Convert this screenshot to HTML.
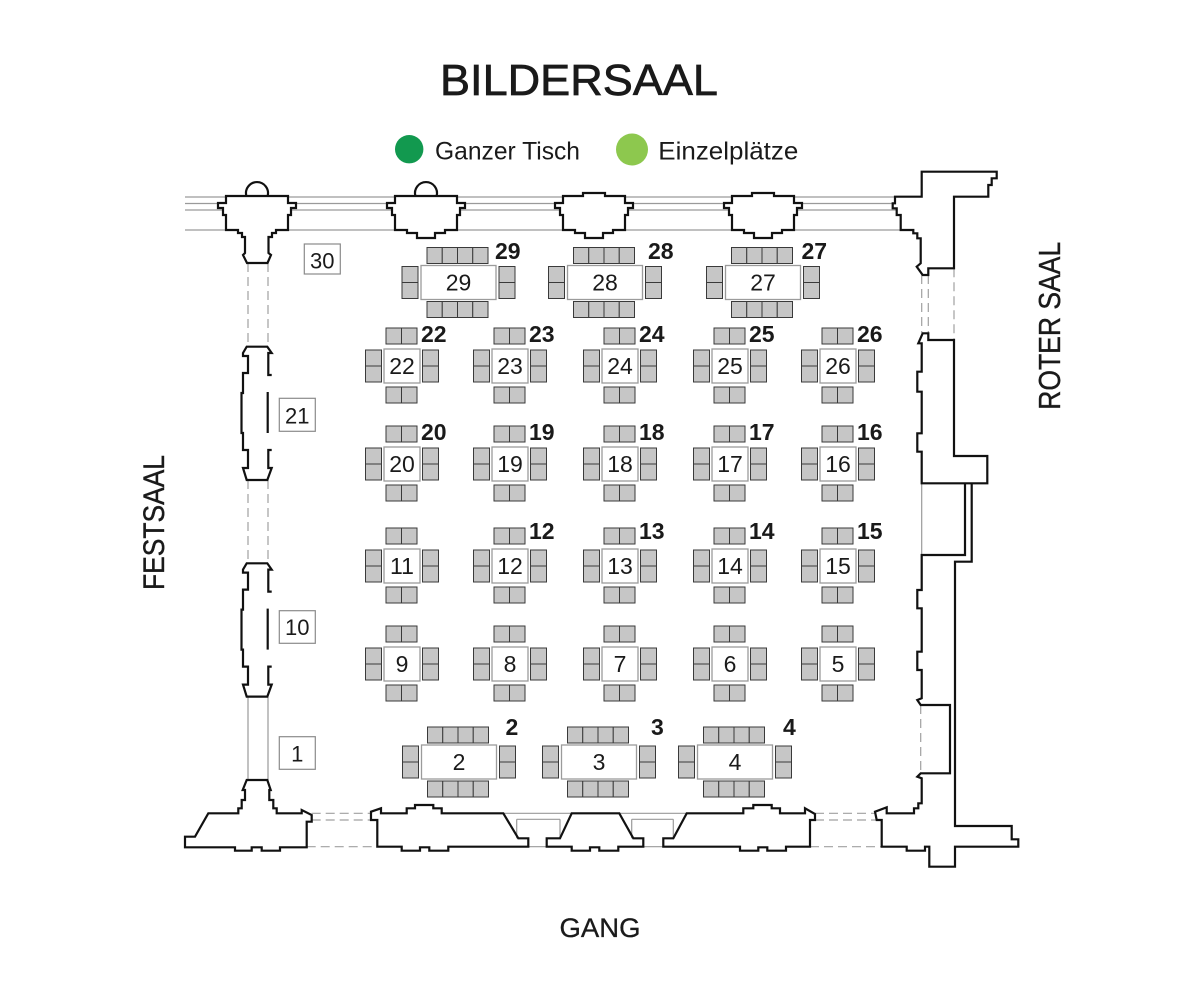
<!DOCTYPE html>
<html><head><meta charset="utf-8"><style>
html,body{margin:0;padding:0;background:#fff;}
svg{display:block;}
text{font-family:"Liberation Sans",Arial,sans-serif;fill:#1a1a1a;}
</style></head><body>
<svg width="1200" height="989" viewBox="0 0 1200 989" xmlns="http://www.w3.org/2000/svg">
<defs>
<g id="st">
 <rect x="-18" y="-17" width="36" height="34" fill="#fff" stroke="#9b9b9b" stroke-width="1.3"/>
 <g fill="#c6c6c6" stroke="#3a3a3a" stroke-width="1">
  <rect x="-16" y="-38" width="15.5" height="16"/><rect x="-0.5" y="-38" width="15.5" height="16"/>
  <rect x="-16" y="21" width="15.5" height="16"/><rect x="-0.5" y="21" width="15.5" height="16"/>
  <rect x="-36.5" y="-16" width="16" height="16"/><rect x="-36.5" y="0" width="16" height="16"/>
  <rect x="20.5" y="-16" width="16" height="16"/><rect x="20.5" y="0" width="16" height="16"/>
 </g>
</g>
<g id="lt">
 <rect x="-37.5" y="-17" width="75" height="34" fill="#fff" stroke="#9b9b9b" stroke-width="1.3"/>
 <g fill="#c6c6c6" stroke="#3a3a3a" stroke-width="1">
  <rect x="-31.5" y="-35" width="15.25" height="16"/><rect x="-16.25" y="-35" width="15.25" height="16"/><rect x="-1" y="-35" width="15.25" height="16"/><rect x="14.25" y="-35" width="15.25" height="16"/>
  <rect x="-31.5" y="19" width="15.25" height="16"/><rect x="-16.25" y="19" width="15.25" height="16"/><rect x="-1" y="19" width="15.25" height="16"/><rect x="14.25" y="19" width="15.25" height="16"/>
  <rect x="-56.5" y="-16" width="16" height="16"/><rect x="-56.5" y="0" width="16" height="16"/>
  <rect x="40.5" y="-16" width="16" height="16"/><rect x="40.5" y="0" width="16" height="16"/>
 </g>
</g>
</defs>

<!-- Title & legend -->
<text x="440" y="95" font-size="44" textLength="278" lengthAdjust="spacingAndGlyphs" stroke="#1a1a1a" stroke-width="0.7">BILDERSAAL</text>
<circle cx="409.2" cy="149.2" r="14.2" fill="#12994f"/>
<text x="435" y="159.3" font-size="25" textLength="145" lengthAdjust="spacingAndGlyphs">Ganzer Tisch</text>
<circle cx="632" cy="149.5" r="16" fill="#8dc84e"/>
<text x="658.3" y="159.3" font-size="25" textLength="140" lengthAdjust="spacingAndGlyphs">Einzelplätze</text>

<!-- Side labels -->
<text transform="translate(164,522.5) rotate(-90)" text-anchor="middle" font-size="30" textLength="135" lengthAdjust="spacingAndGlyphs" stroke="#1a1a1a" stroke-width="0.4">FESTSAAL</text>
<text transform="translate(1060,325.8) rotate(-90)" text-anchor="middle" font-size="31" textLength="168" lengthAdjust="spacingAndGlyphs" stroke="#1a1a1a" stroke-width="0.4">ROTER SAAL</text>
<text x="600" y="937" text-anchor="middle" font-size="27" textLength="81" lengthAdjust="spacingAndGlyphs" stroke="#1a1a1a" stroke-width="0.3">GANG</text>

<!-- Top grey lines -->
<g stroke="#9a9a9a" stroke-width="1.2" fill="none">
 <path d="M185,197 H921 M185,203.5 H921 M185,210 H921 M185,230 H921"/>
</g>

<!-- Grey dashed / thin lines -->
<g stroke="#a0a0a0" stroke-width="1.2" fill="none" stroke-dasharray="9,5">
 <path d="M248,263 V346.7 M268,263 V346.7 M248,480 V563.3 M268,480 V563.3"/>
 <path d="M921.7,275 V333.3 M928.3,275 V333.3 M954,268.3 V340"/>
 <path d="M311.7,813.3 H371 M311.7,820 H371 M306.7,846.7 H377.3"/>
 <path d="M815,813.3 H875 M815,820 H876.7 M810,846.7 H881.7"/>
 <path d="M920.7,705 V773.3"/>
</g>
<g stroke="#9a9a9a" stroke-width="1.2" fill="none">
 <path d="M248,696.7 V780 M268,696.7 V780"/>
 <path d="M921.7,483.3 V555"/>
 <path d="M503.3,813.3 H571.7 M516.7,819.3 H560 M516.7,819.3 V838.3 M560,819.3 V838.3 M528.3,846.7 H546.7"/>
 <path d="M619.3,813.3 H686.7 M631.7,819.3 H673.3 M631.7,819.3 V838.3 M673.3,819.3 V838.3 M643.3,846.7 H663.3"/>
</g>

<!-- Walls (black) -->
<g stroke="#111" stroke-width="2.2" fill="#fff" stroke-linejoin="miter">
 <!-- top pillars -->
 <path d="M246.4,196 A11,11 0 1,1 267.6,196"/>
 <polygon points="226,196 288,196 288,203 296,203 296,208 291,208 291,215 288,215 288,230 276,230 276,233 272,233 272,237 268.5,237 268.5,253 271,255 267.5,263 247,263 243,255 245,253 245,237 242,237 242,233 238,233 238,230 226,230 226,215 223,215 223,208 218,208 218,203 226,203"/>
 <path d="M415.4,196 A11,11 0 1,1 436.6,196"/>
 <polygon points="395,196 457,196 457,203 465,203 465,208 460,208 460,215 457,215 457,230 445,230 445,233 435,233 435,238 417,238 417,233 407,233 407,230 395,230 395,215 392,215 392,208 387,208 387,203 395,203"/>
 <polygon points="583,193 605,193 605,196 625,196 625,203 633,203 633,208 628,208 628,215 625,215 625,230 613,230 613,233 603,233 603,238 585,238 585,233 575,233 575,230 563,230 563,215 560,215 560,208 555,208 555,203 563,203 563,196 583,196"/>
 <polygon points="752,193 774,193 774,196 794,196 794,203 802,203 802,208 797,208 797,215 794,215 794,230 782,230 782,233 772,233 772,238 754,238 754,233 744,233 744,230 732,230 732,215 729,215 729,208 724,208 724,203 732,203 732,196 752,196"/>
 <!-- top right block -->
 <path d="M921.7,171.7 H996.7 V178.3 H991.7 V185 H988.3 V196.7 H954 V268.3 H928.3 V275 H922.7 L916.7,266.7 L920.7,263.3 V238.3 H917.3 V233.3 H913.3 V230 H900.7 V215 H896.7 V208.3 H892.7 V203.3 H895 V196.7 H921.7 Z"/>
 <!-- right wall -->
 <path d="M922.7,333.3 H928.3 V340 H954 V456 H987.3 V483.3 H921.7 V451.7 H917.3 V433.3 H921.7 V391.7 H917.3 V371.7 H921.7 V343.3 H918.3 Z"/>
</g>
<g stroke="#111" stroke-width="2.2" fill="none" stroke-linejoin="miter">
 <path d="M965,483.3 V555 H921.7 V590 H917.3 V608.3 H921.7 V651.7 H917.3 V670 H921.7 V698.3 L917.3,700 L920.7,705 H950 V773.3 H920.7 L917.3,776.7 L921.7,778.3 V803.3 H918.3 V808.3 H914 V813.3 H886.7 V807.3 L875,811.7 L876.7,820 H881.7 V846.7 H906.7 V850.7 H925 V846.7 H929.3 V866.7 H955 V846.7 H1018.3 V839.3 H1011.7 V826 H955 V561.7 H971.7 V483.3"/>
 <!-- left wall pillar segments -->
 <path d="M271.7,450 H268.3 V468 H271.7 L267.3,480 H246.7 L243,468 H248 V450 H243 V433 H241.5 V393 H243 V373 H248 V356 H243 V353 L246.7,346.7 H267.3 L271.7,353 H268.3 V375 H271.7"/>
 <path d="M267.7,392 V433"/>
 <g transform="translate(0,216.6)">
  <path d="M271.7,450 H268.3 V468 H271.7 L267.3,480 H246.7 L243,468 H248 V450 H243 V433 H241.5 V393 H243 V373 H248 V356 H243 V353 L246.7,346.7 H267.3 L271.7,353 H268.3 V375 H271.7"/>
  <path d="M267.7,392 V433"/>
 </g>
 <!-- bottom left base -->
 <path d="M246.7,780 L242.7,790 H245 V800 H241.7 V808.3 H238.3 V813.3 H208.3 L195,836.7 H185 V847.3 H235 V850.7 H251.7 V847.3 H261.7 V850.7 H280 V847.3 H306.7 V821.7 H311.7 V815 L301.7,810 V813.3 H276.7 V808.3 H273.3 V800 H269.3 V790 H270.7 L267.3,780 Z"/>
 <!-- bottom block A -->
 <path d="M371,811.7 L381,808.3 V813.3 H406.7 V808.3 H415 V805 H433.3 V808.3 H441.7 V813.3 H503.3 L518.3,838.3 H528.3 V846.7 H448.3 V850.7 H429.3 V847.3 H420 V850.7 H401.7 V846.7 H377.3 V820 H371 Z"/>
 <!-- block B -->
 <path d="M546.7,838.3 H560 L571.7,813.3 H619.3 L633.3,838.3 H643.3 V846.7 H618.3 V850.7 H599.3 V847.3 H590 V850.7 H571.7 V846.7 H546.7 Z"/>
 <!-- block C -->
 <path d="M686.7,813.3 H743.3 V808.3 H753.3 V805 H771.7 V808.3 H780 V813.3 H805 V808.3 L815,814 V820 H810 V846.7 H786 V850.7 H767.3 V847.3 H758.3 V850.7 H740 V846.7 H663.3 V838.3 H673.3 Z"/>
</g>

<!-- Number boxes on left -->
<g fill="#fff" stroke="#8a8a8a" stroke-width="1.2">
 <rect x="304.3" y="244" width="36" height="30"/>
 <rect x="279.3" y="398.3" width="36" height="33"/>
 <rect x="279.3" y="610.7" width="36" height="32.6"/>
 <rect x="279.3" y="736.7" width="36" height="32.6"/>
</g>
<g font-size="22" text-anchor="middle">
 <text x="322.3" y="268.3">30</text>
 <text x="297.3" y="423.3">21</text>
 <text x="297.3" y="635">10</text>
 <text x="297.3" y="761.7">1</text>
</g>

<!-- Large tables -->
<use href="#lt" x="458.5" y="282.5"/>
<use href="#lt" x="605" y="282.5"/>
<use href="#lt" x="763" y="282.5"/>
<use href="#lt" x="459" y="762"/>
<use href="#lt" x="599" y="762"/>
<use href="#lt" x="735" y="762"/>

<!-- Small tables -->
<use href="#st" x="402" y="366"/><use href="#st" x="510" y="366"/><use href="#st" x="620" y="366"/><use href="#st" x="730" y="366"/><use href="#st" x="838" y="366"/>
<use href="#st" x="402" y="464"/><use href="#st" x="510" y="464"/><use href="#st" x="620" y="464"/><use href="#st" x="730" y="464"/><use href="#st" x="838" y="464"/>
<use href="#st" x="402" y="566"/><use href="#st" x="510" y="566"/><use href="#st" x="620" y="566"/><use href="#st" x="730" y="566"/><use href="#st" x="838" y="566"/>
<use href="#st" x="402" y="664"/><use href="#st" x="510" y="664"/><use href="#st" x="620" y="664"/><use href="#st" x="730" y="664"/><use href="#st" x="838" y="664"/>

<!-- Table numbers inside -->
<g font-size="23" text-anchor="middle">
 <text x="458.5" y="290.5">29</text><text x="605" y="290.5">28</text><text x="763" y="290.5">27</text>
 <text x="459" y="770">2</text><text x="599" y="770">3</text><text x="735" y="770">4</text>
 <text x="402" y="374">22</text><text x="510" y="374">23</text><text x="620" y="374">24</text><text x="730" y="374">25</text><text x="838" y="374">26</text>
 <text x="402" y="472">20</text><text x="510" y="472">19</text><text x="620" y="472">18</text><text x="730" y="472">17</text><text x="838" y="472">16</text>
 <text x="402" y="574">11</text><text x="510" y="574">12</text><text x="620" y="574">13</text><text x="730" y="574">14</text><text x="838" y="574">15</text>
 <text x="402" y="672">9</text><text x="510" y="672">8</text><text x="620" y="672">7</text><text x="730" y="672">6</text><text x="838" y="672">5</text>
</g>

<!-- Bold labels -->
<g font-size="23" font-weight="bold">
 <text x="495" y="259">29</text><text x="648" y="259">28</text><text x="801.5" y="259">27</text>
 <text x="505.5" y="735">2</text><text x="651" y="735">3</text><text x="783" y="735">4</text>
 <text x="421" y="342">22</text><text x="529" y="342">23</text><text x="639" y="342">24</text><text x="749" y="342">25</text><text x="857" y="342">26</text>
 <text x="421" y="440">20</text><text x="529" y="440">19</text><text x="639" y="440">18</text><text x="749" y="440">17</text><text x="857" y="440">16</text>
 <text x="529" y="539">12</text><text x="639" y="539">13</text><text x="749" y="539">14</text><text x="857" y="539">15</text>
</g>
</svg>
</body></html>
